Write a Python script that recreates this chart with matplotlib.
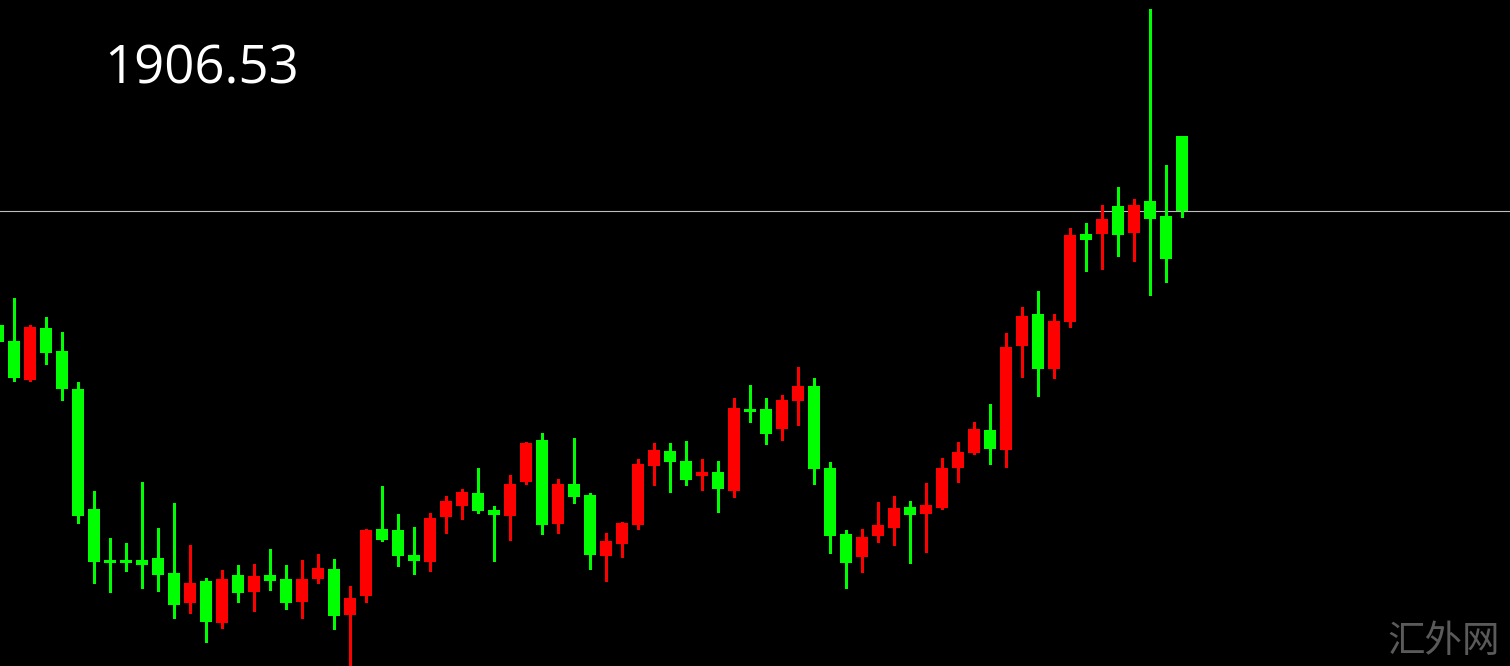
import matplotlib
matplotlib.use('Agg')
import matplotlib.pyplot as plt
import numpy as np

# OHLC values (price units)
opens = [1849.5, 1841.5, 1822, 1848, 1836.5, 1817.5, 1757.5, 1732, 1732, 1732,
         1733, 1725.5, 1710.5, 1721.5, 1700.5, 1724.5, 1716, 1724.5, 1722.5, 1711,
         1722.5, 1727.5, 1704.5, 1714, 1747.5, 1747, 1734.5, 1731, 1753.5, 1759,
         1765.5, 1757, 1754, 1771, 1792, 1750, 1770, 1764.5, 1734, 1740,
         1749.5, 1779, 1786.5, 1781.5, 1774, 1776, 1766.5, 1807.5, 1807.5, 1797.5,
         1811.5, 1819, 1778, 1745, 1733.5, 1744, 1748, 1758.5, 1755, 1758,
         1778, 1785.5, 1797, 1787, 1839, 1855, 1827.5, 1851, 1895, 1895,
         1909, 1895.5, 1911.5, 1904, 1944]
highs = [1853, 1863, 1849.5, 1853.5, 1846, 1821, 1766.5, 1743, 1740.5, 1771,
         1748, 1760.5, 1739.5, 1723, 1727, 1729.5, 1730, 1737.5, 1729.5, 1732,
         1735, 1732.5, 1719, 1747.5, 1769, 1755, 1748.5, 1755.5, 1764, 1767.5,
         1778, 1759, 1774.5, 1791, 1795.5, 1772.5, 1793, 1765.5, 1745.5, 1751,
         1782.5, 1790.5, 1790.5, 1791.5, 1782.5, 1781.5, 1813, 1819.5, 1813, 1814.5,
         1828.5, 1823, 1781, 1747, 1747.5, 1761, 1764, 1761.5, 1770.5, 1783,
         1791, 1801, 1810, 1845.5, 1858.5, 1866.5, 1855, 1898, 1900.5, 1909.5,
         1918.5, 1912.5, 2007.5, 1929.5, 1944]
lows = [1839, 1821.5, 1821.5, 1830, 1812, 1750.5, 1720.5, 1716, 1726.5, 1718,
        1716.5, 1703, 1705.5, 1691, 1698, 1711, 1706.5, 1717, 1707.5, 1703,
        1720.5, 1697.5, 1676, 1711, 1741.5, 1729, 1725, 1726.5, 1745.5, 1752.5,
        1755.5, 1731.5, 1742, 1770, 1745, 1745.5, 1760.5, 1727.5, 1721.5, 1733.5,
        1747.5, 1769.5, 1766, 1769.5, 1767, 1756, 1763.5, 1801, 1790, 1792,
        1799.5, 1770, 1735.5, 1718, 1726, 1741, 1739.5, 1730.5, 1736, 1757.5,
        1771, 1785, 1780, 1778.5, 1823.5, 1814, 1823, 1848.5, 1876.5, 1877.5,
        1884, 1881.5, 1864.5, 1871, 1903.5]
closes = [1841, 1823, 1848.5, 1835.5, 1817.5, 1754, 1731, 1730.5, 1730.5, 1729.5,
          1724.5, 1709.5, 1720.5, 1701, 1722.5, 1715.5, 1724, 1721.5, 1710.5, 1722.5,
          1728, 1704, 1713, 1747, 1742, 1734, 1731.5, 1753, 1761.5, 1766,
          1756.5, 1754.5, 1770, 1790.5, 1749.5, 1770, 1763.5, 1734.5, 1741.5, 1750.5,
          1780, 1787, 1781, 1772, 1776, 1767.5, 1808, 1806, 1795, 1812,
          1819, 1777.5, 1744, 1730.5, 1743.5, 1749.5, 1758, 1754.5, 1759.5, 1778,
          1786, 1797.5, 1787.5, 1838.5, 1854, 1827.5, 1851.5, 1894.5, 1892, 1902.5,
          1894.5, 1909.5, 1902.5, 1882.5, 1906.53]

last_price = 1906.53
price_label = "1906.53"
watermark = "汇外网"

UP_COLOR = '#ff0000'
DOWN_COLOR = '#00ff00'

fig = plt.figure(figsize=(15.1, 6.66), dpi=100, facecolor='black')
ax = fig.add_axes([0, 0, 1, 1])
ax.set_facecolor('black')

o = np.array(opens, dtype=float)
h = np.array(highs, dtype=float)
l = np.array(lows, dtype=float)
c = np.array(closes, dtype=float)
idx = np.arange(len(o))
colors = np.where(c >= o, UP_COLOR, DOWN_COLOR)

ax.axhline(last_price, color='#bdbdbd', linewidth=0.8, zorder=1)
ax.vlines(idx, l, h, colors=colors, linewidth=0.8, antialiased=False, zorder=2)
ax.bar(idx, np.abs(c - o), bottom=np.minimum(o, c), width=0.69,
       color=colors, linewidth=0, antialiased=False, zorder=3)

ax.set_xlim(0.125, 94.5)
ax.set_ylim(1679, 2012)
ax.axis('off')

fig.text(104 / 1510, 1 - 84 / 666, price_label, color='white',
         fontsize=38, family='Open Sans', va='baseline', ha='left')
fig.text(1500 / 1510, 1 - 652 / 666, watermark, color='#5a5a5a',
         fontsize=27, family=['Noto Sans CJK SC', 'DejaVu Sans'],
         va='baseline', ha='right')

fig.savefig('out.png', dpi=100, facecolor='black')
